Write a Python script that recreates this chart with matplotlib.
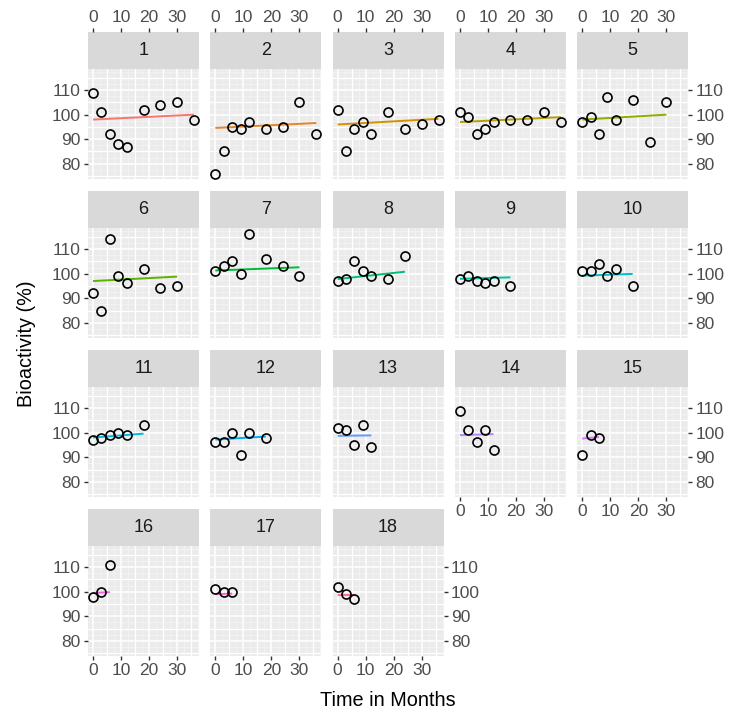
import numpy as np
import matplotlib
matplotlib.use("Agg")
import matplotlib.pyplot as plt
from matplotlib.ticker import MultipleLocator, FixedLocator

plt.rcParams['font.family'] = ['Liberation Sans', 'DejaVu Sans']

# ---------------- data ----------------
lots = [str(i) for i in range(1, 19)]

lot_times = [
    [0, 3, 6, 9, 12, 18, 24, 30, 36],
    [0, 3, 6, 9, 12, 18, 24, 30, 36],
    [0, 3, 6, 9, 12, 18, 24, 30, 36],
    [0, 3, 6, 9, 12, 18, 24, 30, 36],
    [0, 3, 6, 9, 12, 18, 24, 30],
    [0, 3, 6, 9, 12, 18, 24, 30],
    [0, 3, 6, 9, 12, 18, 24, 30],
    [0, 3, 6, 9, 12, 18, 24],
    [0, 3, 6, 9, 12, 18],
    [0, 3, 6, 9, 12, 18],
    [0, 3, 6, 9, 12, 18],
    [0, 3, 6, 9, 12, 18],
    [0, 3, 6, 9, 12],
    [0, 3, 6, 9, 12],
    [0, 3, 6],
    [0, 3, 6],
    [0, 3, 6],
    [0, 3, 6],
]

lot_bioactivity = [
    [109, 101, 92, 88, 87, 102, 104, 105, 98],
    [76, 85, 95, 94, 97, 94, 95, 105, 92],
    [102, 85, 94, 97, 92, 101, 94, 96, 98],
    [101, 99, 92, 94, 97, 98, 98, 101, 97],
    [97, 99, 92, 107, 98, 106, 89, 105],
    [92, 85, 114, 99, 96, 102, 94, 95],
    [101, 103, 105, 100, 116, 106, 103, 99],
    [97, 98, 105, 101, 99, 98, 107],
    [98, 99, 97, 96, 97, 95],
    [101, 101, 104, 99, 102, 95],
    [97, 98, 99, 100, 99, 103],
    [96, 96, 100, 91, 100, 98],
    [102, 101, 95, 103, 94],
    [109, 101, 96, 101, 93],
    [91, 99, 98],
    [98, 100, 111],
    [101, 100, 100],
    [102, 99, 97],
]

# fitted line value at first and last time point of each lot
fit_start = [98.0, 94.6, 96.0, 97.0, 98.0, 97.0, 101.3, 97.8, 97.9, 99.2,
             98.0, 97.2, 98.7, 99.0, 97.6, 99.5, 99.0, 98.6]
fit_end = [100.0, 96.6, 98.3, 99.0, 100.0, 98.8, 102.6, 100.8, 98.5, 99.9,
           99.6, 98.4, 98.9, 99.4, 98.2, 99.8, 99.2, 98.7]

x_ticks = [0, 10, 20, 30]
y_ticks = [80, 90, 100, 110]
x_title = "Time in Months"
y_title = "Bioactivity (%)"


# ---------------- ggplot-like hue palette ----------------
def hue_pal(n, l=65.0, c=100.0, h0=15.0, h1=375.0):
    hues = np.linspace(h0, h1, n + 1)[:n]
    Xn, Yn, Zn = 95.047, 100.0, 108.883
    den = Xn + 15 * Yn + 3 * Zn
    un, vn = 4 * Xn / den, 9 * Yn / den
    out = []
    for h in hues:
        hr = np.deg2rad(h)
        U, V = c * np.cos(hr), c * np.sin(hr)
        Y = Yn * ((l + 16) / 116) ** 3 if l > 8 else Yn * l / 903.3
        up = U / (13 * l) + un
        vp = V / (13 * l) + vn
        X = 9.0 * Y * up / (4 * vp)
        Z = -X / 3 - 5 * Y + 3 * Y / vp
        xyz = np.array([X, Y, Z]) / 100.0
        M = np.array([[3.240479, -1.537150, -0.498535],
                      [-0.969256, 1.875992, 0.041556],
                      [0.055648, -0.204043, 1.057311]])
        rgb = M @ xyz
        rgb = np.where(rgb <= 0.0031308, 12.92 * rgb,
                       1.055 * np.power(np.clip(rgb, 0, None), 1 / 2.4) - 0.055)
        out.append(tuple(np.clip(rgb, 0, 1)))
    return out


colors = hue_pal(len(lots))

# ---------------- layout ----------------
W, H = 735, 712
fig = plt.figure(figsize=(W / 100, H / 100), dpi=100)
fig.patch.set_facecolor('white')

ncol = 5
left0, pitch_x, pw = 88, 122.3, 111
top0, pitch_y, sh, ph = 32, 159, 37, 110

xlim = (-1.8, 37.8)
ylim = (73.8, 118.6)

tick_kw = dict(length=3.2, width=1.0, color='#333333', labelsize=12.5,
               labelcolor='#4D4D4D', pad=2)

n = len(lots)
last_in_row = [min((r + 1) * ncol, n) - 1 for r in range((n + ncol - 1) // ncol)]

for i in range(n):
    r, c = divmod(i, ncol)
    x0 = left0 + c * pitch_x
    st = top0 + r * pitch_y

    # strip
    axs = fig.add_axes([x0 / W, 1 - (st + sh) / H, pw / W, sh / H])
    axs.set_facecolor('#D9D9D9')
    for s in axs.spines.values():
        s.set_visible(False)
    axs.set_xlim(xlim)
    axs.set_ylim(0, 1)
    axs.set_yticks([])
    axs.text(0.5, 0.5, lots[i], transform=axs.transAxes, ha='center',
             va='center', fontsize=13, color='#1A1A1A')
    if r == 0:
        axs.xaxis.tick_top()
        axs.set_xticks(x_ticks)
        axs.set_xticklabels([str(t) for t in x_ticks])
        axs.tick_params(axis='x', **tick_kw)
    else:
        axs.set_xticks([])

    # panel
    ax = fig.add_axes([x0 / W, 1 - (st + sh + ph) / H, pw / W, ph / H])
    ax.set_facecolor('#EBEBEB')
    for s in ax.spines.values():
        s.set_visible(False)
    ax.set_xlim(xlim)
    ax.set_ylim(ylim)
    ax.xaxis.set_major_locator(FixedLocator(x_ticks))
    ax.yaxis.set_major_locator(FixedLocator(y_ticks))
    ax.xaxis.set_minor_locator(MultipleLocator(5))
    ax.yaxis.set_minor_locator(MultipleLocator(5))
    ax.set_axisbelow(True)
    # faint in-between background lines (texture of the reference)
    for gx in np.arange(-2.5, 40, 5):
        ax.axvline(gx, color='#F3F3F3', linewidth=0.6, zorder=0.5)
    for gy in np.arange(72.5, 120, 5):
        ax.axhline(gy, color='#F3F3F3', linewidth=0.6, zorder=0.5)
    ax.grid(which='major', color='white', linewidth=1.1)
    ax.grid(which='minor', color='white', linewidth=0.9)
    ax.tick_params(which='minor', length=0)
    ax.tick_params(axis='both', which='major', **tick_kw)

    # x axis at bottom only if no panel below
    if i + ncol >= n:
        ax.set_xticklabels([str(t) for t in x_ticks])
    else:
        ax.tick_params(axis='x', which='major', length=0, labelbottom=False)

    # y axis left on first column, right on last panel of each row
    if c == 0:
        ax.set_yticklabels([str(t) for t in y_ticks])
    elif i in last_in_row:
        ax.yaxis.tick_right()
        ax.set_yticklabels([str(t) for t in y_ticks])
    else:
        ax.tick_params(axis='y', which='major', length=0, labelleft=False)

    t = np.array(lot_times[i])
    v = np.array(lot_bioactivity[i])
    ax.plot([t.min(), t.max()], [fit_start[i], fit_end[i]], color=colors[i],
            linewidth=1.4, solid_capstyle='butt', zorder=2)
    ax.plot(t, v, linestyle='none', marker='o', markersize=6.5,
            markerfacecolor='none', markeredgecolor='black',
            markeredgewidth=1.2, zorder=3, clip_on=False)

fig.text(27 / W, 1 - 344 / H, y_title, rotation=90, ha='center', va='center',
         fontsize=14.3, color='black')
fig.text(388 / W, 1 - 706 / H, x_title, ha='center', va='baseline',
         fontsize=14.3, color='black')

fig.savefig('out.png', dpi=100, facecolor='white')
